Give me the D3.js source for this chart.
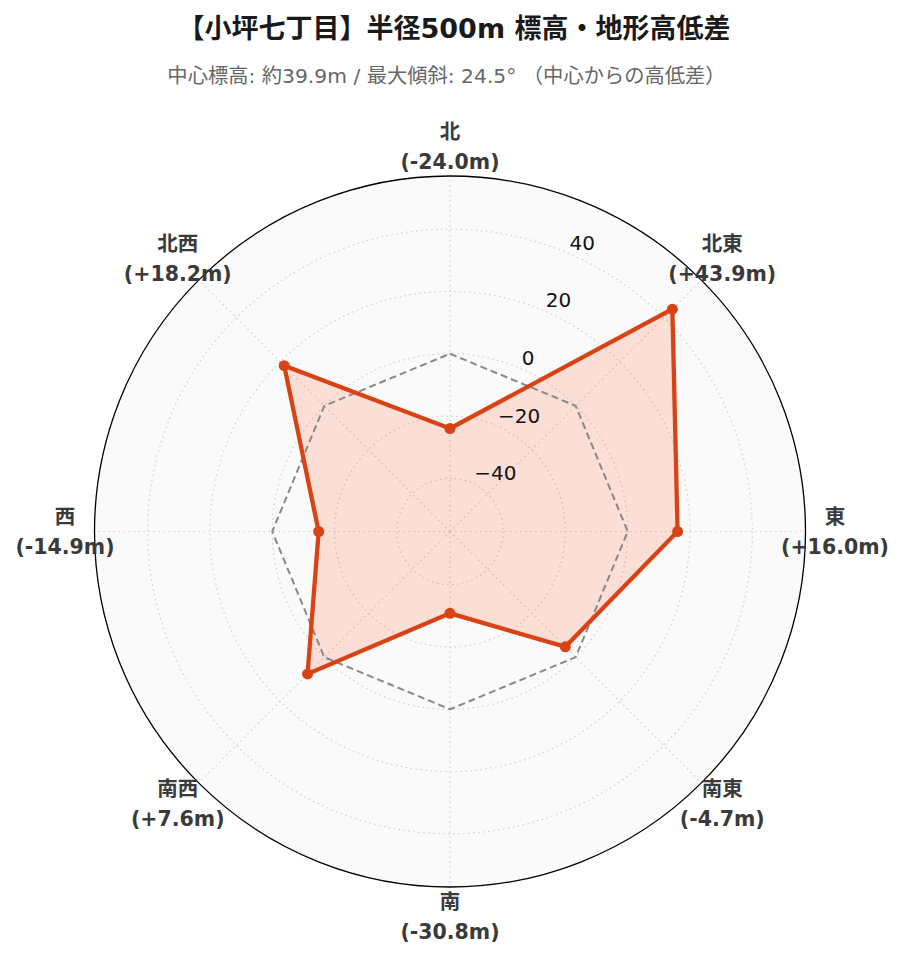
<!DOCTYPE html>
<html>
<head>
<meta charset="utf-8">
<script src="https://cdn.jsdelivr.net/npm/d3@7"></script>
<style>
  html, body { margin: 0; padding: 0; background: #ffffff; }
  svg { display: block; }
  text { font-family: "DejaVu Sans", "Noto Sans CJK JP", sans-serif; }
</style>
</head>
<body>
<svg id="chart" width="903" height="962"></svg>
<script>
// ---- data ----
const titleText = "【小坪七丁目】半径500m 標高・地形高低差";
const subtitleText = "中心標高: 約39.9m / 最大傾斜: 24.5° （中心からの高低差）";
const directions = ["北", "北東", "東", "南東", "南", "南西", "西", "北西"];
const elevDiff = [-24.0, 43.9, 16.0, -4.7, -30.8, 7.6, -14.9, 18.2];
const radialTicks = [-40, -20, 0, 20, 40];
const radialDomain = [-57.07, 57.07];
const baselineValue = 0;

// ---- layout ----
const W = 903, H = 962;
const cx = 450, cy = 531.5, R = 355.5;
const svg = d3.select("#chart");

const r = d3.scaleLinear().domain(radialDomain).range([0, R]);
const n = directions.length;
const ang = d3.scaleLinear().domain([0, n]).range([0, 2 * Math.PI]);
const px = (a, rad) => cx + rad * Math.sin(a);
const py = (a, rad) => cy - rad * Math.cos(a);

// title
svg.append("text").attr("x", 454).attr("y", 28)
  .attr("text-anchor", "middle").attr("dominant-baseline", "central")
  .attr("font-size", 27).attr("font-weight", "bold").attr("fill", "#1a1a1a")
  .text(titleText);
svg.append("text").attr("x", 446.5).attr("y", 76)
  .attr("text-anchor", "middle").attr("dominant-baseline", "central")
  .attr("font-size", 20.3).attr("fill", "#666666")
  .text(subtitleText);

const g = svg.append("g");

// polar background
g.append("circle").attr("cx", cx).attr("cy", cy).attr("r", R)
  .attr("fill", "#fafafa").attr("stroke", "none");

// circular gridlines
g.selectAll("circle.grid").data(radialTicks).join("circle")
  .attr("class", "grid")
  .attr("cx", cx).attr("cy", cy).attr("r", d => r(d))
  .attr("fill", "none").attr("stroke", "#cfcfcf").attr("stroke-width", 1.2)
  .attr("stroke-dasharray", "1.5,3.5");

// radial gridlines
g.selectAll("line.spoke").data(d3.range(n)).join("line")
  .attr("class", "spoke")
  .attr("x1", cx).attr("y1", cy)
  .attr("x2", i => px(ang(i), R)).attr("y2", i => py(ang(i), R))
  .attr("stroke", "#cfcfcf").attr("stroke-width", 1.2)
  .attr("stroke-dasharray", "1.5,3.5");

// data fill
const radial = d3.lineRadial()
  .angle((d, i) => ang(i))
  .radius(d => r(d))
  .curve(d3.curveLinearClosed);

g.append("path")
  .attr("transform", `translate(${cx},${cy})`)
  .attr("d", radial(elevDiff))
  .attr("fill", "#ff5722").attr("fill-opacity", 0.17).attr("stroke", "none");

// zero baseline (dashed)
g.append("path")
  .attr("transform", `translate(${cx},${cy})`)
  .attr("d", radial(directions.map(() => baselineValue)))
  .attr("fill", "none").attr("stroke", "#888888").attr("stroke-width", 2)
  .attr("stroke-dasharray", "7,4").attr("stroke-linejoin", "round");

// data line
g.append("path")
  .attr("transform", `translate(${cx},${cy})`)
  .attr("d", radial(elevDiff))
  .attr("fill", "none").attr("stroke", "#d84315").attr("stroke-width", 4.3)
  .attr("stroke-linejoin", "miter");

// markers
g.selectAll("circle.pt").data(elevDiff).join("circle")
  .attr("class", "pt")
  .attr("cx", (d, i) => px(ang(i), r(d)))
  .attr("cy", (d, i) => py(ang(i), r(d)))
  .attr("r", 5.5).attr("fill", "#d84315");

// outer circle
g.append("circle").attr("cx", cx).attr("cy", cy).attr("r", R)
  .attr("fill", "none").attr("stroke", "#000").attr("stroke-width", 1.3);

// radial tick labels
const labelAngle = Math.PI / 8;
g.selectAll("text.rtick").data(radialTicks).join("text")
  .attr("class", "rtick")
  .attr("x", d => px(labelAngle, r(d) + 10))
  .attr("y", d => py(labelAngle, r(d) + 10))
  .attr("text-anchor", "start").attr("dominant-baseline", "central")
  .attr("font-size", 20).attr("fill", "#111")
  .text(d => d < 0 ? "\u2212" + Math.abs(d) : String(d));

// category labels
const fmt = v => "(" + (v >= 0 ? "+" : "-") + Math.abs(v).toFixed(1) + "m)";
const lab = g.selectAll("g.cat").data(directions).join("g")
  .attr("class", "cat")
  .attr("transform", (d, i) => `translate(${px(ang(i), R + 29.5)},${py(ang(i), R + 29.5)})`);
lab.append("text").attr("y", -15)
  .attr("text-anchor", "middle").attr("dominant-baseline", "central")
  .attr("font-size", 20.5).attr("font-weight", "bold").attr("fill", "#3a3a3a")
  .text(d => d);
lab.append("text").attr("y", 15)
  .attr("text-anchor", "middle").attr("dominant-baseline", "central")
  .attr("font-size", 20.5).attr("font-weight", "bold").attr("fill", "#3a3a3a")
  .text((d, i) => fmt(elevDiff[i]));
</script>
</body>
</html>
